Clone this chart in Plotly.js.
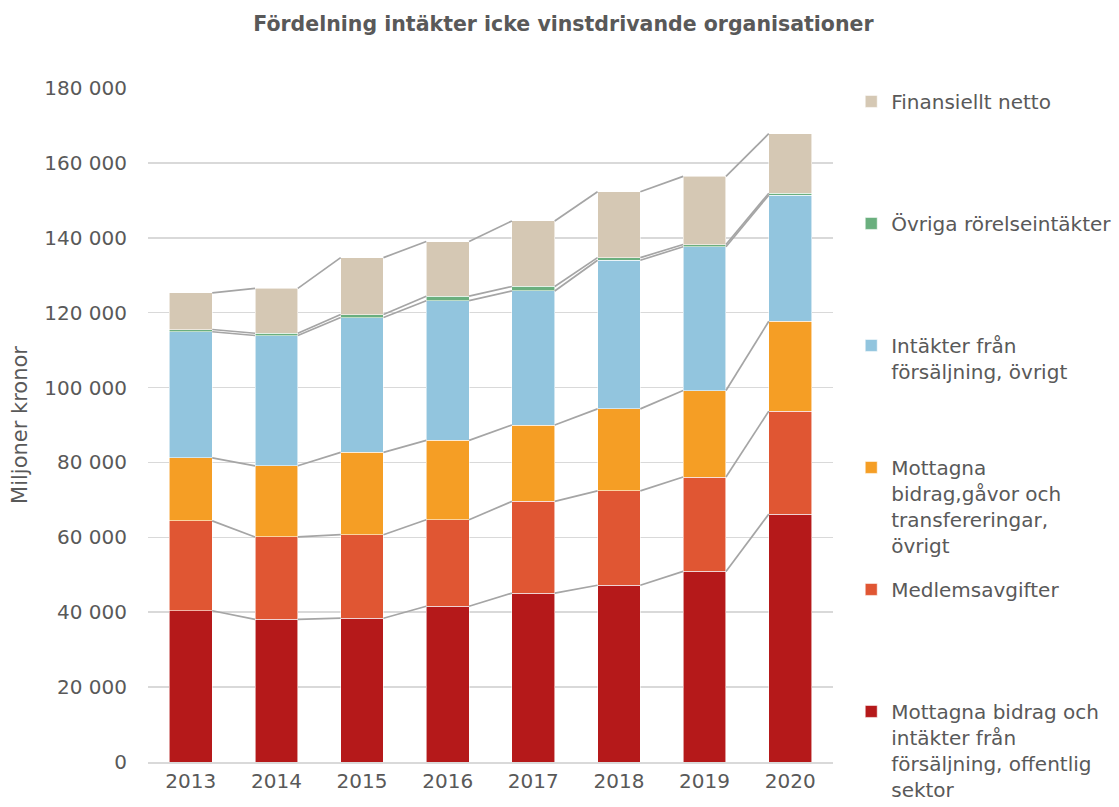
<!DOCTYPE html>
<html>
<head>
<meta charset="utf-8">
<script src="https://cdn.plot.ly/plotly-3.0.1.min.js"></script>
<style>
  html, body { margin: 0; padding: 0; background: #ffffff; }
  #chart { width: 1119px; height: 807px; }
</style>
</head>
<body>
<div id="chart"></div>
<script>
// ---- Data (miljoner kronor) ----
const years = ['2013', '2014', '2015', '2016', '2017', '2018', '2019', '2020'];

const offentligSektor = [40400, 38100, 38400, 41600, 45100, 47200, 50900, 66200];
const medlemsavgifter = [24000, 22000, 22300, 23100, 24500, 25200, 25200, 27500];
const bidragOvrigt    = [16800, 19000, 22000, 21200, 20400, 21900, 23100, 24000];
const forsaljningOvr  = [33700, 34800, 36000, 37300, 35800, 39700, 38400, 33700];
const ovrigaRorelse   = [600, 600, 800, 1200, 1200, 700, 600, 500];
const finansielltNetto = [9800, 12000, 15200, 14600, 17500, 17600, 18200, 15900];

const NB = '\u00a0';
const seriesNames = [
  'Mottagna bidrag och<br>intäkter från<br>försäljning, offentlig<br>sektor',
  'Medlemsavgifter<br>' + NB + '<br>' + NB + '<br>' + NB,
  'Mottagna<br>bidrag,gåvor och<br>transfereringar,<br>övrigt',
  'Intäkter från<br>försäljning, övrigt<br>' + NB + '<br>' + NB,
  'Övriga rörelseintäkter<br>' + NB + '<br>' + NB + '<br>' + NB,
  'Finansiellt netto<br>' + NB + '<br>' + NB + '<br>' + NB
];
const seriesValues = [offentligSektor, medlemsavgifter, bidragOvrigt, forsaljningOvr, ovrigaRorelse, finansielltNetto];
const seriesColors = ['#B5191A', '#E05633', '#F59E25', '#92C5DE', '#6AAF7E', '#D5C8B4'];

// ---- Build traces ----
const xIdx = years.map((_, i) => i);
const barHalf = 0.25; // bargap 0.5 -> bar width 0.5
const traces = [];
const cumulative = years.map(() => 0);

seriesValues.forEach((vals, s) => {
  traces.push({
    type: 'bar',
    x: xIdx,
    y: vals,
    name: seriesNames[s],
    legendgroup: 'g' + s,
    legendrank: 100 - s,
    marker: { color: seriesColors[s], line: { color: 'rgba(255,255,255,0.7)', width: 0.8 } },
    hoverinfo: 'y'
  });
});

// Series lines connecting the top of each stacked segment between bars
const lineTraces = [];
seriesValues.forEach((vals) => {
  vals.forEach((v, i) => { cumulative[i] += v; });
  const lx = [], ly = [];
  for (let i = 0; i < years.length - 1; i++) {
    lx.push(i + barHalf, i + 1 - barHalf, null);
    ly.push(cumulative[i], cumulative[i + 1], null);
  }
  lineTraces.push({
    type: 'scatter', mode: 'lines', x: lx, y: ly,
    line: { color: '#A5A5A5', width: 1.7 },
    showlegend: false, hoverinfo: 'skip', connectgaps: false
  });
});

const textColor = '#595959';
const layout = {
  width: 1119,
  height: 807,
  barmode: 'stack',
  bargap: 0.5,
  separators: ', ',
  paper_bgcolor: '#ffffff',
  plot_bgcolor: '#ffffff',
  font: { family: 'DejaVu Sans, Verdana, sans-serif', size: 20, color: textColor },
  margin: { l: 148, r: 286, t: 88, b: 45, autoexpand: false },
  title: {
    text: '<b>Fördelning intäkter icke vinstdrivande organisationer</b>',
    font: { family: 'DejaVu Sans, Verdana, sans-serif', size: 20.5, color: textColor },
    xref: 'container', x: 0.5035,
    yref: 'container', y: 1 - 24 / 807, yanchor: 'middle'
  },
  xaxis: {
    range: [-0.5, 7.5],
    tickmode: 'array',
    tickvals: xIdx,
    ticktext: years,
    showgrid: false,
    zeroline: false,
    showline: true,
    linecolor: '#D9D9D9',
    linewidth: 1.5,
    ticks: '',
    tickfont: { size: 20, color: textColor },
    fixedrange: true
  },
  yaxis: {
    range: [0, 180000],
    dtick: 20000,
    tickformat: ',d',
    showgrid: true,
    gridcolor: '#D9D9D9',
    gridwidth: 1.5,
    zeroline: false,
    showline: false,
    ticks: '',
    ticklabelstandoff: 20,
    tickfont: { size: 20, color: textColor },
    title: { text: 'Miljoner kronor', font: { size: 21, color: textColor }, standoff: 10 },
    fixedrange: true
  },
  legend: {
    x: 1.0266, xanchor: 'left',
    y: 1.009, yanchor: 'top',
    traceorder: 'grouped',
    tracegroupgap: 15,
    valign: 'top',
    maxheight: 800,
    font: { size: 20, color: textColor },
    bgcolor: 'rgba(0,0,0,0)'
  },
  showlegend: true
};

Plotly.newPlot('chart', traces.concat(lineTraces), layout, { displayModeBar: false, staticPlot: true });
</script>
</body>
</html>
